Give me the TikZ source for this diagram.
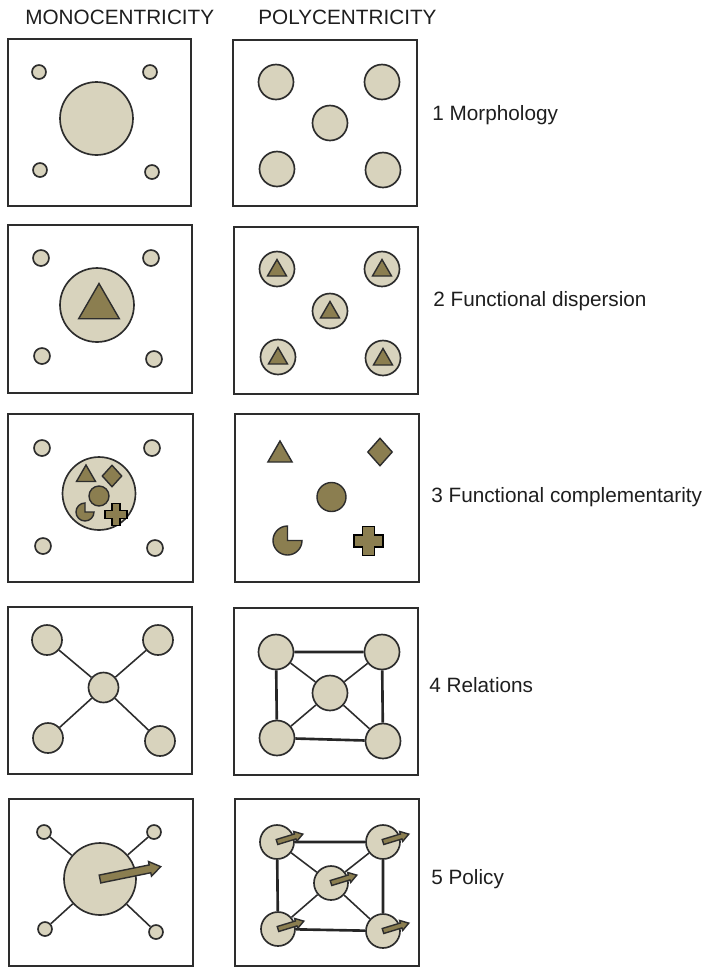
\documentclass[tikz,border=0pt]{standalone}
\usepackage{fontspec}
\setmainfont{Liberation Sans}
\usetikzlibrary{shapes.geometric}
\definecolor{towncol}{RGB}{216,211,189}
\definecolor{funccol}{RGB}{139,126,80}
\definecolor{edgecol}{RGB}{45,45,45}
\definecolor{inkcol}{RGB}{30,30,30}
% block arrow: start, angle, length, shaft half width, head half width, head length
\newcommand{\policyarrow}[6]{\draw[push, shift={#1}, rotate=#2] (0,-#4) -- ({#3-#6},-#4) -- ({#3-#6},-#5) -- (#3,0) -- ({#3-#6},#5) -- ({#3-#6},#4) -- (0,#4) -- cycle;}
% cross: centre, half length, half arm width
\newcommand{\crossat}[3]{\draw[plus, shift={#1}] (-#3,-#2) -- (#3,-#2) -- (#3,-#3) -- (#2,-#3) -- (#2,#3) -- (#3,#3) -- (#3,#2) -- (-#3,#2) -- (-#3,#3) -- (-#2,#3) -- (-#2,-#3) -- (-#3,-#3) -- cycle;}
% pacman: centre, radius
\newcommand{\pacman}[2]{\draw[func, shift={#1}] (0,0) -- (0,-#2) arc[start angle=-90, end angle=-360, radius=#2] -- cycle;}
\begin{document}
\begin{tikzpicture}[x=0.02cm, y=-0.02cm,
    panel/.style={draw=edgecol, line width=1pt},
    town/.style={circle, draw=edgecol, fill=towncol, line width=0.95pt, inner sep=0pt, minimum size=#1*0.04cm},
    func/.style={draw=edgecol, fill=funccol, line width=0.8pt},
    plus/.style={draw=black, fill=funccol, line width=1.1pt},
    push/.style={draw=edgecol, fill=funccol, line width=0.8pt},
    tri/.style={func, regular polygon, regular polygon sides=3, inner sep=0pt, minimum size=#1*0.04cm},
    rhomb/.style 2 args={func, diamond, inner sep=0pt, minimum width=#1*0.02cm, minimum height=#2*0.02cm},
    link/.style={draw=edgecol, line width=0.9pt},
    frame/.style={draw=black!85, line width=1.5pt},
    lbl/.style={anchor=base west, text=inkcol, inner sep=0pt, font=\fontsize{11.8}{14}\selectfont}]
    \useasboundingbox (0,0) rectangle (713,968);
    \node[lbl] (mono) at (25,24) {MONOCENTRICITY}; \node[lbl] (poly) at (258,24) {POLYCENTRICITY};
    %% 1 morphology
    \draw[panel] (8,39) rectangle (191,206); \draw[panel] (233,40) rectangle (417,206);
    \node[town=7] (m1a) at (39,72) {}; \node[town=7] (m1b) at (150,72) {};
    \node[town=7] (m1c) at (40,170) {}; \node[town=7] (m1d) at (152,172) {};
    \node[town=36.5] (m1e) at (96.5,118.5) {};
    \node[town=17.5] (p1a) at (276,82) {}; \node[town=17.5] (p1b) at (382,82) {};
    \node[town=17.5] (p1e) at (330,123) {};
    \node[town=17.5] (p1c) at (277,169) {}; \node[town=17.5] (p1d) at (383,170) {};
    \node[lbl] (l1) at (432,120) {1 Morphology};
    %% 2 functional dispersion
    \draw[panel] (8,225) rectangle (192,393); \draw[panel] (234,227) rectangle (418,394);
    \node[town=8] (m2a) at (41,258) {}; \node[town=8] (m2b) at (151,258) {};
    \node[town=8] (m2c) at (42,356) {}; \node[town=8] (m2d) at (154,359) {};
    \node[town=37] (m2e) at (97,305) {}; \node[tri=23.5] (m2t) at (99,307) {};
    \node[town=17.5] (p2a) at (277,269) {}; \node[tri=11] (p2at) at (277,270.5) {};
    \node[town=17.5] (p2b) at (382,269) {}; \node[tri=11] (p2bt) at (382,270.5) {};
    \node[town=17.5] (p2e) at (330,311) {}; \node[tri=11] (p2et) at (330,312.5) {};
    \node[town=17.5] (p2c) at (278,357) {}; \node[tri=11] (p2ct) at (278,358.5) {};
    \node[town=17.5] (p2d) at (383,358) {}; \node[tri=11] (p2dt) at (383,359.5) {};
    \node[lbl] (l2) at (433,306) {2 Functional dispersion};
    %% 3 functional complementarity
    \draw[panel] (8,414) rectangle (193,582); \draw[panel] (235,414) rectangle (419,582);
    \node[town=8] (m3a) at (42,448) {}; \node[town=8] (m3b) at (152,448) {};
    \node[town=8] (m3c) at (43,546) {}; \node[town=8] (m3d) at (155,548) {};
    \node[town=36.5] (m3e) at (99,493.5) {};
    \node[tri=11] (m3t) at (86,476) {}; \node[rhomb={20}{22}] (m3r) at (112,476) {};
    \node[func, circle, inner sep=0pt, minimum size=0.4cm] (m3o) at (99,496) {};
    \pacman{(85,512)}{9}
    \crossat{(116,514.5)}{11}{4}
    \node[tri=14] (p3t) at (280,455) {}; \node[rhomb={25}{28}] (p3r) at (380,452) {};
    \node[func, circle, inner sep=0pt, minimum size=0.58cm] (p3o) at (331.5,497) {};
    \pacman{(287.5,540.5)}{14.5}
    \crossat{(368.5,541)}{14.5}{6}
    \node[lbl] (l3) at (431,502) {3 Functional complementarity};
    %% 4 relations
    \draw[panel] (8,607) rectangle (192,774); \draw[panel] (234,608) rectangle (418,775);
    \node[town=15] (m4a) at (47,640) {}; \node[town=15] (m4b) at (158,640) {};
    \node[town=15] (m4e) at (103.5,687.5) {};
    \node[town=15] (m4c) at (48,738) {}; \node[town=15] (m4d) at (160,741) {};
    \draw[link] (m4a) -- (m4e) -- (m4d); \draw[link] (m4b) -- (m4e) -- (m4c);
    \node[town=17.5] (p4a) at (276,652) {}; \node[town=17.5] (p4b) at (382,652) {};
    \node[town=17.5] (p4e) at (330,693) {};
    \node[town=17.5] (p4c) at (277,738) {}; \node[town=17.5] (p4d) at (383,741) {};
    \draw[frame] (p4a) -- (p4b) -- (p4d) -- (p4c) -- (p4a);
    \draw[link] (p4a) -- (p4e) -- (p4d); \draw[link] (p4b) -- (p4e) -- (p4c);
    \node[lbl] (l4) at (429,692) {4 Relations};
    %% 5 policy
    \draw[panel] (9,799) rectangle (193,966); \draw[panel] (235,799) rectangle (419,966);
    \node[town=7] (m5a) at (44,832) {}; \node[town=7] (m5b) at (154,832) {};
    \node[town=7] (m5c) at (45,929) {}; \node[town=7] (m5d) at (156,932) {};
    \node[town=36] (m5e) at (100,879) {};
    \draw[link] (m5a) -- (m5e) -- (m5d); \draw[link] (m5b) -- (m5e) -- (m5c);
    \policyarrow{(m5e)}{11.5}{62}{4}{7.5}{11}
    \node[town=17] (p5a) at (277,842) {}; \node[town=17] (p5b) at (383,842) {};
    \node[town=17] (p5e) at (331,883) {};
    \node[town=17] (p5c) at (278,929) {}; \node[town=17] (p5d) at (383,931) {};
    \draw[frame] (p5a) -- (p5b) -- (p5d) -- (p5c) -- (p5a);
    \draw[link] (p5a) -- (p5e) -- (p5d); \draw[link] (p5b) -- (p5e) -- (p5c);
    \policyarrow{(p5a)}{17}{27}{2.6}{5.2}{8} \policyarrow{(p5b)}{17}{27}{2.6}{5.2}{8}
    \policyarrow{(p5e)}{17}{27}{2.6}{5.2}{8}
    \policyarrow{(p5c)}{17}{27}{2.6}{5.2}{8} \policyarrow{(p5d)}{17}{27}{2.6}{5.2}{8}
    \node[lbl] (l5) at (431,884) {5 Policy};
\end{tikzpicture}
\end{document}
